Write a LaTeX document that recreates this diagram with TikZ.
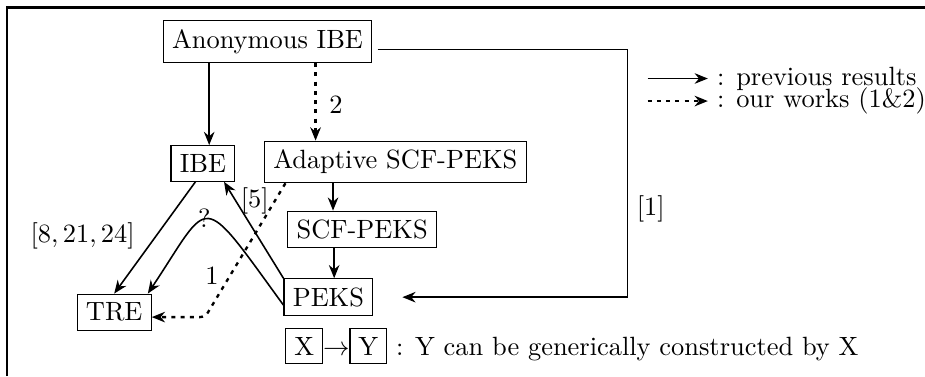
\documentclass[tikz,border=0pt]{standalone}
\usetikzlibrary{arrows.meta}

\begin{document}
\begin{tikzpicture}[>={Stealth[length=5pt, width=4pt]},
        box/.style={draw},
        prev/.style={->, semithick},
        ours/.style={->, line width=0.9pt, dash pattern=on 1.5pt off 2pt}]
    \useasboundingbox (0,0) rectangle (12.31,5.005);
    \draw[thick] (0.093,0) |- (12.31,4.905);

    % schemes
    \node[box] (anon)     at (3.56,4.45) {Anonymous IBE};
    \node[box] (ibe)      at (2.70,2.83) {IBE};
    \node[box] (adaptive) at (5.26,2.85) {Adaptive SCF-PEKS};
    \node[box] (scf)      at (4.82,1.95) {SCF-PEKS};
    \node[box] (peks)     at (4.37,1.05) {PEKS};
    \node[box] (tre)      at (1.52,0.85) {TRE};

    \coordinate (turn) at (8.35,1.05);
    \coordinate (bend) at (2.73,0.785);

    % constructions
    \draw[prev] (ibe.71 |- anon.south) -- (ibe.71);
    \draw[ours] (adaptive.165 |- anon.south) -- (adaptive.165);
    \draw[prev] (scf.147 |- adaptive.south) -- (scf.147);
    \draw[prev] (peks.73 |- scf.south) -- (peks.73);
    \draw[prev] (ibe.248) -- (tre.north);
    \draw[prev] (peks.north west) -- (ibe.-41);
    \draw[prev] (peks.190) .. controls (2.64,2.50) and (2.82,2.38) .. (tre.29);
    \draw[ours, rounded corners=2pt] (adaptive.191) -- (bend) -- (bend -| tre.east);
    \draw[prev, shorten <=2pt, shorten >=11pt] ([yshift=-3pt]anon.east) -| (turn) -- (peks);

    % labels
    \node (lab2) at (4.47,3.61) {2};
    \node (lab1) at (2.82,1.34) {1};
    \node (qm)   at (2.72,2.10) {?};
    \node (ref5) at (3.39,2.33) {[5]};
    \node (ref8) at (1.10,1.86) {$[8,21,24]$};
    \node (ref1) at (8.66,2.22) {[1]};

    % legend
    \node (prevtxt) [anchor=west] at (9.42,3.96) {: previous results};
    \node (ourtxt)  [anchor=west] at (9.42,3.66) {: our works (1\&2)};
    \coordinate (prevstart) at (8.62,3.96);
    \coordinate (ourstart)  at (8.62,3.66);
    \draw[prev] (prevstart) -- (prevtxt);
    \draw[ours] (ourstart) -- (ourtxt);
    \node (key) [anchor=base west, inner sep=0pt] at (3.79,0.28)
        {\fbox{X}$\rightarrow$\fbox{Y} : Y can be generically constructed by X};
\end{tikzpicture}
\end{document}
